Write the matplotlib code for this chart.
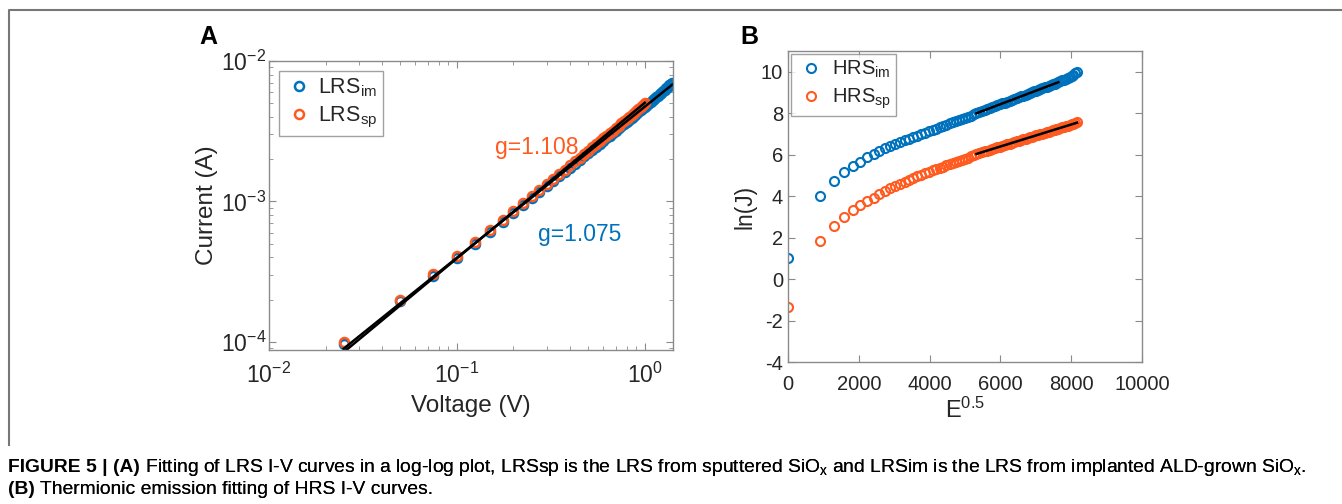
import numpy as np
import matplotlib
matplotlib.use("Agg")
import matplotlib.pyplot as plt
from matplotlib.lines import Line2D

plt.rcParams['font.family'] = ['Liberation Sans', 'DejaVu Sans']
plt.rcParams['mathtext.fontset'] = 'custom'
plt.rcParams['mathtext.rm'] = 'Liberation Sans'
plt.rcParams['mathtext.it'] = 'Liberation Sans:italic'
plt.rcParams['mathtext.bf'] = 'Liberation Sans:bold'
plt.rcParams['axes.unicode_minus'] = False

BLUE = '#0072BD'
ORANGE = '#FF5A1F'
GRAY = '#8a8a8a'
TXT = '#262626'

# ---- panel A: LRS I-V (log-log) ----
volt_im = [0.025, 0.05, 0.075, 0.1, 0.125, 0.15, 0.175, 0.2, 0.225, 0.25,
           0.275, 0.3, 0.325, 0.35, 0.375, 0.4, 0.425, 0.45, 0.475, 0.5,
           0.525, 0.55, 0.575, 0.6, 0.625, 0.65, 0.675, 0.7, 0.725, 0.75,
           0.775, 0.8, 0.825, 0.85, 0.875, 0.9, 0.925, 0.95, 0.975, 1.0,
           1.025, 1.05, 1.075, 1.1, 1.125, 1.15, 1.175, 1.2, 1.225, 1.25,
           1.275, 1.3, 1.325, 1.35, 1.375, 1.4]
# current in mA
curr_im = [0.096, 0.195, 0.296, 0.396, 0.500, 0.609, 0.718, 0.832, 0.945, 1.060,
           1.172, 1.284, 1.398, 1.512, 1.628, 1.744, 1.862, 1.980, 2.100, 2.220,
           2.339, 2.460, 2.578, 2.700, 2.823, 2.946, 3.067, 3.192, 3.318, 3.444,
           3.568, 3.696, 3.825, 3.954, 4.081, 4.212, 4.338, 4.465, 4.592, 4.720,
           4.854, 4.990, 5.121, 5.258, 5.396, 5.534, 5.668, 5.808, 5.954, 6.100,
           6.248, 6.396, 6.546, 6.696, 6.848, 7.000]
volt_sp = volt_im[:40]
curr_sp = [0.100, 0.200, 0.303, 0.408, 0.515, 0.627, 0.739, 0.856, 0.972, 1.090,
           1.208, 1.326, 1.444, 1.565, 1.686, 1.808, 1.930, 2.052, 2.176, 2.300,
           2.426, 2.552, 2.680, 2.808, 2.938, 3.068, 3.200, 3.332, 3.466, 3.600,
           3.736, 3.872, 4.010, 4.148, 4.288, 4.428, 4.570, 4.712, 4.856, 5.000]
g_im = 1.075
g_sp = 1.108

# ---- panel B: HRS thermionic emission ----
thickness = 30e-9  # m
volt_hrs = [0.0, 0.025, 0.05, 0.075, 0.1, 0.125, 0.15, 0.175, 0.2, 0.225,
            0.25, 0.275, 0.3, 0.325, 0.35, 0.375, 0.4, 0.425, 0.45, 0.475,
            0.5, 0.525, 0.55, 0.575, 0.6, 0.625, 0.65, 0.675, 0.7, 0.725,
            0.75, 0.775, 0.8, 0.825, 0.85, 0.875, 0.9, 0.925, 0.95, 0.975,
            1.0, 1.025, 1.05, 1.075, 1.1, 1.125, 1.15, 1.175, 1.2, 1.225,
            1.25, 1.275, 1.3, 1.325, 1.35, 1.375, 1.4, 1.425, 1.45, 1.475,
            1.5, 1.525, 1.55, 1.575, 1.6, 1.625, 1.65, 1.675, 1.7, 1.725,
            1.75, 1.775, 1.8, 1.825, 1.85, 1.875, 1.9, 1.925, 1.95, 1.975, 2.0]
lnj_im = [1.04, 4.03, 4.74, 5.16, 5.46, 5.67, 5.87, 6.04, 6.19, 6.30,
          6.43, 6.52, 6.61, 6.69, 6.77, 6.85, 6.92, 6.99, 7.06, 7.13,
          7.20, 7.26, 7.33, 7.39, 7.45, 7.51, 7.56, 7.61, 7.66, 7.71,
          7.76, 7.82, 7.88, 7.94, 8.00, 8.05, 8.10, 8.15, 8.20, 8.25,
          8.29, 8.33, 8.38, 8.42, 8.47, 8.51, 8.55, 8.60, 8.64, 8.69,
          8.73, 8.77, 8.81, 8.85, 8.89, 8.93, 8.97, 9.01, 9.05, 9.09,
          9.13, 9.17, 9.20, 9.24, 9.28, 9.32, 9.35, 9.39, 9.43, 9.46,
          9.50, 9.54, 9.58, 9.62, 9.66, 9.70, 9.75, 9.80, 9.86, 9.93, 10.0]
lnj_sp = [-1.36, 1.86, 2.57, 2.99, 3.34, 3.55, 3.77, 3.93, 4.11, 4.24,
          4.37, 4.48, 4.59, 4.69, 4.78, 4.87, 4.95, 5.03, 5.10, 5.17,
          5.24, 5.30, 5.36, 5.42, 5.48, 5.54, 5.59, 5.64, 5.69, 5.74,
          5.79, 5.86, 5.92, 5.98, 6.04, 6.08, 6.12, 6.16, 6.20, 6.24,
          6.28, 6.32, 6.35, 6.39, 6.42, 6.46, 6.50, 6.53, 6.57, 6.60,
          6.64, 6.67, 6.70, 6.74, 6.77, 6.80, 6.83, 6.86, 6.90, 6.93,
          6.96, 6.99, 7.02, 7.05, 7.08, 7.11, 7.14, 7.17, 7.20, 7.23,
          7.26, 7.29, 7.32, 7.35, 7.37, 7.40, 7.43, 7.46, 7.50, 7.54, 7.58]
fit_n_im = (34, 70)   # index range of the linear fit
fit_n_sp = (34, 80)

caption_a = (' Fitting of LRS I-V curves in a log-log plot, LRSsp is the LRS from sputtered '
             r'SiO$_{\mathregular{x}}$ and LRSim is the LRS from implanted ALD-grown '
             r'SiO$_{\mathregular{x}}$.')
caption_b = ' Thermionic emission fitting of HRS I-V curves.'


def style_axes(ax, size, xpad):
    for s in ax.spines.values():
        s.set_color(GRAY)
        s.set_linewidth(1.0)
    ax.tick_params(which='both', direction='in', top=True, right=True,
                   color=GRAY, labelcolor=TXT, labelsize=size)
    ax.tick_params(which='major', length=5, width=0.8)
    ax.tick_params(which='minor', length=3, width=0.6)
    ax.tick_params(axis='x', which='both', pad=xpad)


fig = plt.figure(figsize=(13.42, 5.04), dpi=100)

# ----- A -----
axA = fig.add_axes([0.2004, 0.3056, 0.3010, 0.5734])
vi = np.array(volt_im)
ii = np.array(curr_im) * 1e-3
vs = np.array(volt_sp)
isp = np.array(curr_sp) * 1e-3
mk = dict(ls='none', marker='o', mfc='none', ms=6.5, mew=1.8)
axA.plot(vi, ii, color=BLUE, label=r'LRS$_{\mathregular{im}}$', **mk)
axA.plot(vs, isp, color=ORANGE, label=r'LRS$_{\mathregular{sp}}$', **mk)
a_im = np.exp(np.mean(np.log(ii) - g_im * np.log(vi)))
a_sp = np.exp(np.mean(np.log(isp) - g_sp * np.log(vs)))
axA.plot(vi[[0, -1]], a_im * vi[[0, -1]] ** g_im, color='black', lw=1.8)
axA.plot(vs[[0, -1]], a_sp * vs[[0, -1]] ** g_sp, color='black', lw=1.8)
axA.set_xscale('log')
axA.set_yscale('log')
axA.set_xlim(0.01, 1.41)
axA.set_ylim(8.77e-5, 1e-2)
style_axes(axA, 16.5, 9)
axA.tick_params(axis='y', which='both', pad=2)
axA.set_xlabel('Voltage (V)', fontsize=17.5, color=TXT, labelpad=5)
axA.set_ylabel('Current (A)', fontsize=17.5, color=TXT, labelpad=2)
axA.text(0.159, 2.41e-3, 'g=1.108', color=ORANGE, fontsize=16.5, va='center', ha='left')
axA.text(0.27, 5.83e-4, 'g=1.075', color=BLUE, fontsize=16.5, va='center', ha='left')
legA = axA.legend(loc='upper left', fontsize=15.5, frameon=True, fancybox=False,
                  handletextpad=0.2, borderpad=0.25, labelspacing=0.3,
                  handlelength=1.4, borderaxespad=0.45)
legA.get_frame().set_edgecolor(GRAY)
legA.get_frame().set_linewidth(1.0)
for t in legA.get_texts():
    t.set_color(TXT)
fig.text(208 / 1342, 1 - 37 / 504, 'A', fontsize=18, fontweight='bold',
         ha='center', va='center')

# ----- B -----
axB = fig.add_axes([0.5872, 0.2817, 0.2638, 0.6171])
xe = np.sqrt(np.array(volt_hrs) / thickness)
yim = np.array(lnj_im)
ysp = np.array(lnj_sp)
mkb = dict(ls='none', marker='o', mfc='none', ms=6.5, mew=1.5)
axB.plot(xe, yim, color=BLUE, label=r'HRS$_{\mathregular{im}}$', **mkb)
axB.plot(xe, ysp, color=ORANGE, label=r'HRS$_{\mathregular{sp}}$', **mkb)
for (n0, n1), yy in ((fit_n_im, yim), (fit_n_sp, ysp)):
    p = np.polyfit(xe[n0:n1 + 1], yy[n0:n1 + 1], 1)
    xx = xe[[n0, n1]]
    axB.plot(xx, np.polyval(p, xx), color='black', lw=1.8)
axB.set_xlim(0, 10000)
axB.set_ylim(-4, 11)
axB.set_xticks([0, 2000, 4000, 6000, 8000, 10000])
axB.set_yticks([-4, -2, 0, 2, 4, 6, 8, 10])
style_axes(axB, 14.5, 9)
axB.set_xlabel(r'E$^{\mathregular{0.5}}$', fontsize=17, color=TXT, labelpad=3)
axB.set_ylabel('ln(J)', fontsize=16.5, color=TXT, labelpad=3)
legB = axB.legend(loc='upper left', fontsize=14.5, frameon=True, fancybox=False,
                  handletextpad=0.3, borderpad=0.25, labelspacing=0.3,
                  handlelength=1.5, borderaxespad=0.15)
legB.get_frame().set_edgecolor(GRAY)
legB.get_frame().set_linewidth(1.0)
for t in legB.get_texts():
    t.set_color(TXT)
fig.text(749 / 1342, 1 - 37 / 504, 'B', fontsize=18, fontweight='bold',
         ha='center', va='center')

# outer frame (top and left edges)
fig.add_artist(Line2D([9 / 1342, 9 / 1342, 1.0], [1 - 445 / 504, 1 - 10 / 504, 1 - 10 / 504],
                      transform=fig.transFigure, color='#777777', lw=1.5))

# caption
b1 = fig.text(8 / 1342, 1 - 467 / 504, 'FIGURE 5 | (A)', fontsize=13.9, fontweight='bold',
              va='center', ha='left')
fig.add_artist(plt.annotate(caption_a, xy=(1, 0.5), xycoords=b1, va='center', ha='left',
                            fontsize=13.9, annotation_clip=False))
b2 = fig.text(8 / 1342, 1 - 490 / 504, '(B)', fontsize=13.9, fontweight='bold',
              va='center', ha='left')
fig.add_artist(plt.annotate(caption_b, xy=(1, 0.5), xycoords=b2, va='center', ha='left',
                            fontsize=13.9, annotation_clip=False))

fig.savefig('out.png', dpi=100)
